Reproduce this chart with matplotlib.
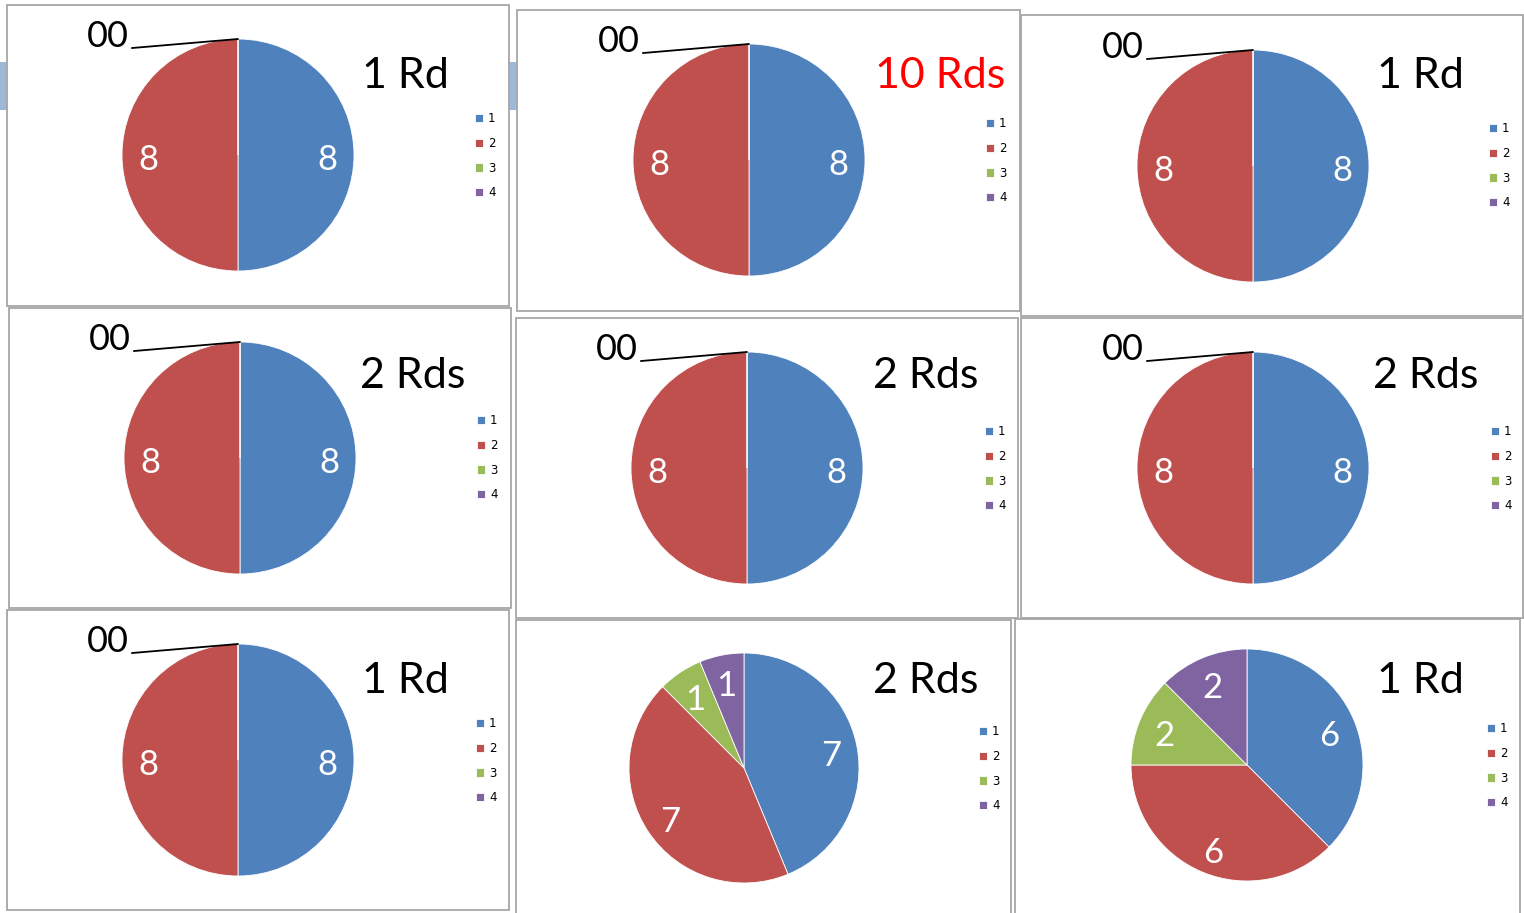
import numpy as np
import matplotlib
matplotlib.use("Agg")
import matplotlib.pyplot as plt
from matplotlib.patches import Rectangle

# Datos
categories = ["1", "2", "3", "4"]
panel_values = [
    [8, 8, 0, 0],
    [8, 8, 0, 0],
    [8, 8, 0, 0],
    [8, 8, 0, 0],
    [8, 8, 0, 0],
    [8, 8, 0, 0],
    [8, 8, 0, 0],
    [7, 7, 1, 1],
    [6, 6, 2, 2],
]
panel_titles = ["1 Rd", "10 Rds", "1 Rd",
                "2 Rds", "2 Rds", "2 Rds",
                "1 Rd", "2 Rds", "1 Rd"]

# Estilo / disposicion (pixeles)
colors = ["#4F81BD", "#C0504D", "#9BBB59", "#8064A2"]
title_colors = ["black", "red", "black", "black", "black", "black", "black", "black", "black"]
boxes = [(7, 5, 509, 306), (517, 10, 1020, 311), (1021, 15, 1523, 316),
         (9, 308, 511, 608), (516, 318, 1018, 618), (1021, 318, 1523, 618),
         (7, 610, 509, 910), (516, 620, 1011, 916), (1015, 619, 1520, 916)]
pies = [(238, 155, 116), (749, 160, 116), (1253, 166, 116),
        (240, 458, 116), (747, 468, 116), (1253, 468, 116),
        (238, 760, 116), (744, 768, 115), (1247, 765, 116)]
title_pos = [(405, 72), (940, 72), (1420, 72),
             (413, 372), (926, 372), (1426, 372),
             (405, 677), (926, 677), (1420, 677)]
legend_pos = [(477, 117), (988, 122), (1491, 127),
              (479, 419), (987, 430), (1493, 430),
              (478, 722), (981, 730), (1489, 727)]

W, H = 1524, 913
fig = plt.figure(figsize=(W / 100, H / 100), dpi=100)
fig.patch.set_facecolor("white")


def fx(x):
    return x / W


def fy(y):
    return 1 - y / H


# barras azules de fondo
for (x0, y0, x1, y1) in [(0, 62, 8, 110), (509, 62, 518, 110)]:
    fig.patches.append(Rectangle((fx(x0), fy(y1)), fx(x1 - x0), (y1 - y0) / H,
                                 transform=fig.transFigure, facecolor="#9DB9D8",
                                 edgecolor="none", zorder=0))

for i, vals in enumerate(panel_values):
    x0, y0, x1, y1 = boxes[i]
    fig.patches.append(Rectangle((fx(x0), fy(y1)), fx(x1 - x0), (y1 - y0) / H,
                                 transform=fig.transFigure, facecolor="white",
                                 edgecolor="#A6A6A6", linewidth=1.3, zorder=1))

    cx, cy, r = pies[i]
    ax = fig.add_axes([fx(cx - r), fy(cy + r), 2 * r / W, 2 * r / H])
    ax.set_zorder(2)
    labels = [str(v) if v > 0 else "" for v in vals]
    wedges, texts = ax.pie(vals, colors=colors, startangle=90, counterclock=False,
                           labels=labels, labeldistance=0.77, radius=1,
                           wedgeprops=dict(edgecolor="white", linewidth=0.6),
                           textprops=dict(color="white", fontsize=25, family="Lato",
                                          ha="center", va="center_baseline"))
    for t in texts:
        x, y = t.get_position()
        t.set_position((x, y - 0.02))
    ax.set_xlim(-1, 1)
    ax.set_ylim(-1, 1)
    ax.set_aspect("equal")
    ax.axis("off")

    zeros = [w for w, v in zip(wedges, vals) if v == 0]
    if zeros:
        th = np.deg2rad(zeros[0].theta1)
        ax.annotate("0" * len(zeros), xy=(np.cos(th), np.sin(th)),
                    xytext=(-1.12, 1.02),
                    ha="center", va="center", fontsize=26, family="Lato", color="black",
                    annotation_clip=False,
                    arrowprops=dict(arrowstyle="-", color="black", lw=1.3,
                                    relpos=(0.55, 0.1), shrinkA=0, shrinkB=0))

    tx, ty = title_pos[i]
    fig.text(fx(tx), fy(ty), panel_titles[i], ha="center", va="center_baseline",
             fontsize=31, family="Lato", color=title_colors[i], zorder=5)

    lx, ly = legend_pos[i]
    ax.legend(wedges, categories, loc="upper left",
              bbox_to_anchor=(fx(lx - 2), fy(ly - 5)), bbox_transform=fig.transFigure,
              frameon=False, fontsize=8.5, handlelength=0.7, handleheight=0.7,
              handletextpad=0.4, labelspacing=1.0, borderpad=0, borderaxespad=0)

fig.savefig("out.png", dpi=100, facecolor="white")
